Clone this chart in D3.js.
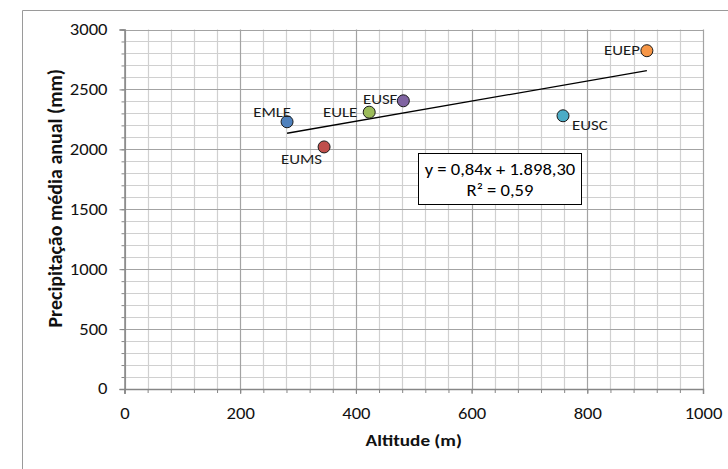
<!DOCTYPE html>
<html>
<head>
<meta charset="utf-8">
<script src="https://cdn.jsdelivr.net/npm/d3@7"></script>
<style>
  html, body { margin: 0; padding: 0; background: #fff; }
  svg { display: block; font-family: Carlito, Calibri, Lato, "Open Sans", sans-serif; }
</style>
</head>
<body>
<svg id="chart" width="728" height="469"></svg>
<script>
// ---- data ----
const stations = ["EMLE", "EUMS", "EULE", "EUSF", "EUSC", "EUEP"];
const altitude = [281, 345, 423, 482, 758, 903];
const precipitation = [2230, 2020, 2310, 2405, 2280, 2823];
const pointColors = ["#4f81bd", "#c0504d", "#9bbb59", "#8064a2", "#4bacc6", "#f79646"];
const xTicks = [0, 200, 400, 600, 800, 1000];
const yTicks = [0, 500, 1000, 1500, 2000, 2500, 3000];
const trendSlope = 0.84;
const trendIntercept = 1898.30;
const equationLines = ["y = 0,84x + 1.898,30", "R² = 0,59"];
const xTitle = "Altitude (m)";
const yTitle = "Precipitação média anual (mm)";

// ---- label placement (style) ----
const labelPos = {
  EMLE: { dx: 4,  dy: -5,  anchor: "end" },
  EUMS: { dx: -2, dy: 17,  anchor: "end" },
  EULE: { dx: -12, dy: 5,  anchor: "end" },
  EUSF: { dx: -6, dy: 3,   anchor: "end" },
  EUSC: { dx: 9,  dy: 14,  anchor: "start" },
  EUEP: { dx: -7, dy: 4,   anchor: "end" }
};

const SX = 1.2; // horizontal text stretch seen in the reference

const svg = d3.select("#chart");
const W = 728, H = 469;
const plot = { left: 124.5, right: 703, top: 29.5, bottom: 389 };

const x = d3.scaleLinear().domain([0, 1000]).range([plot.left, plot.right]);
const y = d3.scaleLinear().domain([0, 3000]).range([plot.bottom, plot.top]);

function stretchedText(sel, px, py) {
  return sel.attr("x", 0).attr("y", 0)
    .attr("transform", `translate(${px},${py}) scale(${SX},1)`);
}

// outer chart frame (cropped on right/bottom)
svg.append("path")
  .attr("d", `M22.5,${H} L22.5,10.5 L${W},10.5`)
  .attr("fill", "none").attr("stroke", "#9a9a9a").attr("stroke-width", 1);

// gridlines
const xMinor = d3.range(0, 1001, 40);
const yMinor = d3.range(0, 3001, 100);
const g = svg.append("g");
g.selectAll(".vminor").data(xMinor.filter(v => v % 200 !== 0)).join("line")
  .attr("x1", d => Math.round(x(d)) + 0.5).attr("x2", d => Math.round(x(d)) + 0.5)
  .attr("y1", plot.top).attr("y2", plot.bottom)
  .attr("stroke", "#d0d0d0").attr("stroke-width", 1.2);
g.selectAll(".hminor").data(yMinor.filter(v => v % 500 !== 0)).join("line")
  .attr("y1", d => Math.round(y(d)) + 0.5).attr("y2", d => Math.round(y(d)) + 0.5)
  .attr("x1", plot.left).attr("x2", plot.right)
  .attr("stroke", "#d0d0d0").attr("stroke-width", 1.2);
g.selectAll(".vmajor").data(xTicks).join("line")
  .attr("x1", d => Math.round(x(d)) + 0.5).attr("x2", d => Math.round(x(d)) + 0.5)
  .attr("y1", plot.top).attr("y2", plot.bottom)
  .attr("stroke", "#a3a3a3").attr("stroke-width", 1.2);
g.selectAll(".hmajor").data(yTicks).join("line")
  .attr("y1", d => Math.round(y(d)) + 0.5).attr("y2", d => Math.round(y(d)) + 0.5)
  .attr("x1", plot.left).attr("x2", plot.right)
  .attr("stroke", "#a3a3a3").attr("stroke-width", 1.2);

// axes
const axisColor = "#868686";
svg.append("g").attr("class", "yaxis").attr("transform", `translate(${plot.left},0)`)
  .call(d3.axisLeft(y).tickValues(yTicks).tickSize(5).tickPadding(12).tickFormat(d3.format("d")));
svg.append("g").attr("transform", `translate(${plot.left},0)`)
  .call(d3.axisLeft(y).tickValues(yMinor).tickSize(3).tickFormat(""))
  .call(a => a.select(".domain").remove());
svg.append("g").attr("class", "xaxis").attr("transform", `translate(0,${plot.bottom})`)
  .call(d3.axisBottom(x).tickValues(xTicks).tickSize(5).tickPadding(14).tickFormat(d3.format("d")));
svg.append("g").attr("transform", `translate(0,${plot.bottom})`)
  .call(d3.axisBottom(x).tickValues(xMinor).tickSize(4).tickFormat(""))
  .call(a => a.select(".domain").remove());
svg.selectAll(".domain").attr("stroke", axisColor).attr("stroke-width", 1.5);
svg.selectAll(".tick line").attr("stroke", axisColor);
svg.selectAll(".tick text").attr("font-size", 15.5).attr("fill", "#111")
  .attr("font-family", "Carlito, Calibri, Lato, sans-serif");
svg.selectAll(".yaxis .tick text")
  .attr("x", -17 / SX).attr("transform", `scale(${SX},1)`);
svg.selectAll(".xaxis .tick text")
  .attr("transform", `scale(${SX},1)`);

// axis titles
svg.append("text").text(xTitle)
  .call(stretchedText, (plot.left + plot.right) / 2, 446)
  .attr("text-anchor", "middle").attr("font-weight", "bold").attr("font-size", 16).attr("fill", "#111");
svg.append("text").text(yTitle)
  .attr("transform", `translate(62,${(plot.top + plot.bottom) / 2 - 11}) rotate(-90)`)
  .attr("text-anchor", "middle").attr("font-weight", "bold").attr("font-size", 20).attr("fill", "#111");

// trendline
const xMin = d3.min(altitude), xMax = d3.max(altitude);
svg.append("line")
  .attr("x1", x(xMin)).attr("y1", y(trendSlope * xMin + trendIntercept))
  .attr("x2", x(xMax)).attr("y2", y(trendSlope * xMax + trendIntercept))
  .attr("stroke", "#000").attr("stroke-width", 1.3);

// points
const pts = stations.map((s, i) => ({ s, a: altitude[i], p: precipitation[i], c: pointColors[i] }));
svg.append("g").selectAll("circle").data(pts).join("circle")
  .attr("cx", d => x(d.a)).attr("cy", d => y(d.p)).attr("r", 6)
  .attr("fill", d => d.c).attr("stroke", "#1a1a1a").attr("stroke-width", 1);

// labels
svg.append("g").selectAll("text").data(pts).join("text")
  .each(function (d) {
    d3.select(this).call(stretchedText, x(d.a) + labelPos[d.s].dx, y(d.p) + labelPos[d.s].dy);
  })
  .attr("text-anchor", d => labelPos[d.s].anchor)
  .attr("font-size", 14).attr("fill", "#1a1a1a")
  .text(d => d.s);

// equation box
const box = svg.append("g");
box.append("rect").attr("x", 418.5).attr("y", 153.5).attr("width", 163).attr("height", 51)
  .attr("fill", "#fff").attr("stroke", "#000").attr("stroke-width", 1);
box.selectAll("text").data(equationLines).join("text")
  .each(function (d, i) { d3.select(this).call(stretchedText, 500, 175 + i * 21); })
  .attr("text-anchor", "middle").attr("font-size", 15.5).attr("fill", "#000")
  .text(d => d);
</script>
</body>
</html>
